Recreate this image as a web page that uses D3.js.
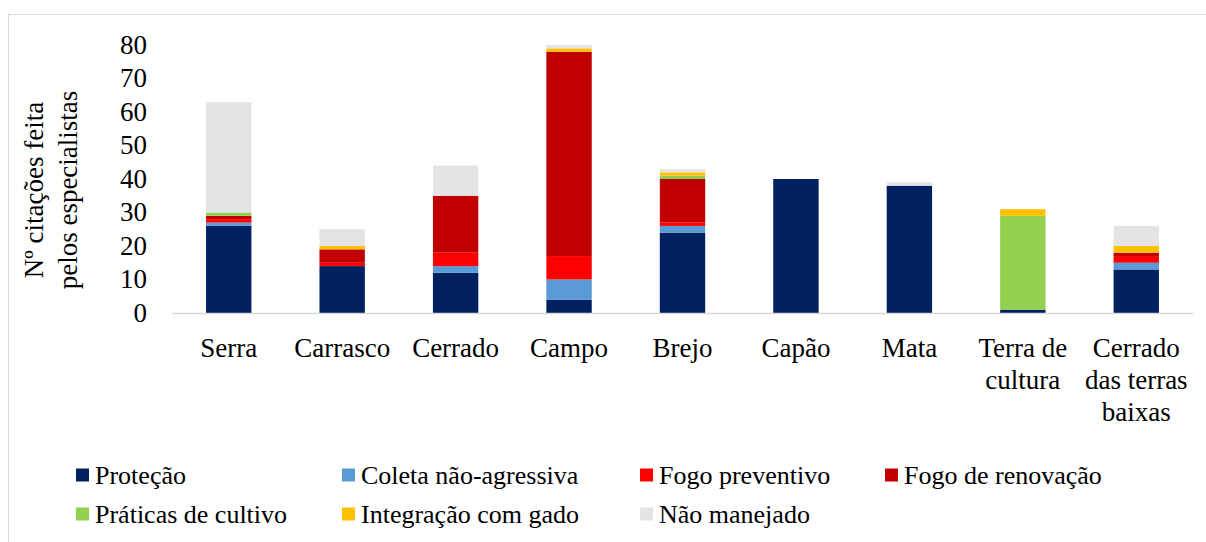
<!DOCTYPE html>
<html>
<head>
<meta charset="utf-8">
<script src="https://cdn.jsdelivr.net/npm/d3@7"></script>
<style>
  body { margin: 0; background: #fff; }
  #chart, #chart text, #chart tspan { font-family: 'Liberation Serif', 'Times New Roman', serif !important; }
</style>
</head>
<body>
<svg id="chart" width="1206" height="542"></svg>
<script>
const width = 1206;
const height = 542;
const serifFont = "'Liberation Serif', 'Times New Roman', serif";

// categories (line breaks with |)
const categories = ['Serra', 'Carrasco', 'Cerrado', 'Campo', 'Brejo', 'Capão', 'Mata', 'Terra de|cultura', 'Cerrado|das terras|baixas'];

const seriesNames = ['Proteção', 'Coleta não-agressiva', 'Fogo preventivo', 'Fogo de renovação', 'Práticas de cultivo', 'Integração com gado', 'Não manejado'];
const seriesColors = ['#002060', '#5b9bd5', '#ff0000', '#c00000', '#92d050', '#ffc000', '#e4e4e4'];

const protecao = [26, 14, 12, 4, 24, 40, 38, 1, 13];
const coleta = [1, 0, 2, 6, 2, 0, 0, 0, 2];
const fogoPreventivo = [1, 1, 4, 7, 1, 0, 0, 0, 2];
const fogoRenovacao = [1, 4, 17, 61, 13, 0, 0, 0, 1];
const praticas = [1, 0, 0, 0, 1, 0, 0, 28, 0];
const integracao = [0, 1, 0, 1, 1, 0, 0, 2, 2];
const naoManejado = [33, 5, 9, 1, 1, 0, 1, 0, 6];

const yTicks = [0, 10, 20, 30, 40, 50, 60, 70, 80];

const seriesValues = [protecao, coleta, fogoPreventivo, fogoRenovacao, praticas, integracao, naoManejado];

// build rows for d3.stack
const rows = categories.map((c, i) => {
  const r = { cat: c };
  seriesNames.forEach((s, j) => { r[s] = seriesValues[j][i]; });
  return r;
});
const stacked = d3.stack().keys(seriesNames)(rows);

const svg = d3.select('#chart');

// outer chart frame
svg.append('rect')
  .attr('x', 8.5).attr('y', 14.5)
  .attr('width', 1400).attr('height', 800)
  .attr('fill', 'none')
  .attr('stroke', '#d9d9d9');

const x = d3.scaleBand()
  .domain(categories)
  .range([172, 1193])
  .paddingInner(0.6)
  .paddingOuter(0.3);

const y = d3.scaleLinear()
  .domain([0, 80])
  .range([313, 45]);

// bars
svg.append('g')
  .selectAll('g')
  .data(stacked)
  .join('g')
  .attr('fill', (d, i) => seriesColors[i])
  .selectAll('rect')
  .data(d => d)
  .join('rect')
  .attr('x', d => x(d.data.cat))
  .attr('width', x.bandwidth())
  .attr('y', d => y(d[1]))
  .attr('height', d => y(d[0]) - y(d[1]));

// x axis line
svg.append('line')
  .attr('x1', 172).attr('x2', 1193)
  .attr('y1', y(0) + 0.5).attr('y2', y(0) + 0.5)
  .attr('stroke', '#d9d9d9')
  .attr('stroke-width', 1.5);

// y tick labels
svg.append('g')
  .selectAll('text')
  .data(yTicks)
  .join('text')
  .attr('x', 147)
  .attr('y', d => y(d))
  .attr('dy', '0.33em')
  .attr('text-anchor', 'end')
  .style('font-family', serifFont, 'important')
  .attr('font-size', 27)
  .attr('fill', '#000')
  .text(d => d);

// category labels
const catLabels = svg.append('g')
  .selectAll('text')
  .data(categories)
  .join('text')
  .attr('text-anchor', 'middle')
  .style('font-family', serifFont, 'important')
  .attr('font-size', 27)
  .attr('fill', '#000');

catLabels.selectAll('tspan')
  .data(d => d.split('|').map(t => ({ t, c: d })))
  .join('tspan')
  .attr('x', d => x(d.c) + x.bandwidth() / 2)
  .attr('y', (d, i) => 357 + i * 32)
  .text(d => d.t);

// y axis title
const yTitle = svg.append('text')
  .attr('transform', 'translate(50,190) rotate(-90)')
  .attr('text-anchor', 'middle')
  .style('font-family', serifFont, 'important')
  .attr('font-size', 27)
  .attr('fill', '#000');
yTitle.append('tspan').attr('x', 0).attr('y', -7).text('Nº citações feita');
yTitle.append('tspan').attr('x', 0).attr('y', 27).text('pelos especialistas');

// legend
const legendX = [76, 342, 640, 885];
const legendY = [475, 514];
const legend = svg.append('g')
  .selectAll('g')
  .data(seriesNames)
  .join('g')
  .attr('transform', (d, i) => `translate(${legendX[i % 4]},${legendY[Math.floor(i / 4)]})`);

legend.append('rect')
  .attr('x', 0).attr('y', -6.5)
  .attr('width', 13).attr('height', 13)
  .attr('fill', (d, i) => seriesColors[i]);

legend.append('text')
  .attr('x', 19)
  .attr('dy', '0.33em')
  .style('font-family', serifFont, 'important')
  .attr('font-size', 26)
  .attr('fill', '#000')
  .text(d => d);
</script>
</body>
</html>
